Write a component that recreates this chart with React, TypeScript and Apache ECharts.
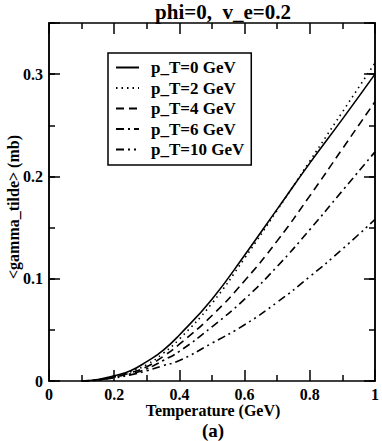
import React, { useEffect, useRef } from "react";
import * as echarts from "echarts";

const temperatures = [0.1, 0.15, 0.2, 0.25, 0.3, 0.35, 0.4, 0.5, 0.6, 0.7, 0.8, 0.9, 1.0];
const pT0 = [0, 0.0015, 0.005, 0.01, 0.019, 0.03, 0.045, 0.08, 0.123, 0.168, 0.213, 0.256, 0.3];
const pT2 = [0, 0.001, 0.004, 0.009, 0.016, 0.027, 0.041, 0.076, 0.12, 0.167, 0.215, 0.263, 0.311];
const pT4 = [0, 0.001, 0.004, 0.008, 0.014, 0.024, 0.036, 0.064, 0.098, 0.137, 0.181, 0.227, 0.273];
const pT6 = [0, 0.001, 0.004, 0.007, 0.012, 0.02, 0.029, 0.053, 0.08, 0.112, 0.148, 0.186, 0.224];
const pT10 = [0, 0.001, 0.003, 0.006, 0.01, 0.015, 0.02, 0.037, 0.055, 0.077, 0.102, 0.129, 0.158];
const seriesNames = ["p_T=0 GeV", "p_T=2 GeV", "p_T=4 GeV", "p_T=6 GeV", "p_T=10 GeV"];
const seriesValues = [pT0, pT2, pT4, pT6, pT10];
const dashes: (string | number[])[] = ["solid", [1.5, 4], [8, 5], [8, 4, 2, 4], [8, 4, 2, 4, 2, 4]];
const xTickLabels = ["0", "0.2", "0.4", "0.6", "0.8", "1"];
const yTickLabels = ["0", "0.1", "0.2", "0.3"];

const FONT = "Liberation Serif";

export default function App() {
  const ref = useRef<HTMLDivElement>(null);
  useEffect(() => {
    document.body.style.margin = "0";
    const chart = echarts.init(ref.current!, undefined, { renderer: "svg" });
    const lineW = 1.5;
    const axisCommon = {
      type: "value" as const,
      axisLine: { show: true, onZero: false, lineStyle: { color: "#000", width: lineW } },
      splitLine: { show: false },
      minorSplitLine: { show: false },
    };
    const labelStyle = { fontFamily: FONT, fontWeight: "bold" as const, fontSize: 16, color: "#000" };
    const xBase = {
      ...axisCommon,
      min: 0,
      max: 1,
      interval: 0.2,
      axisTick: { show: true, inside: true, length: 11, lineStyle: { color: "#000", width: lineW } },
      minorTick: { show: true, splitNumber: 2, length: 6, lineStyle: { color: "#000", width: lineW } },
    };
    const yMinor = {
      ...axisCommon,
      min: 0,
      max: 0.35,
      interval: 0.05,
      axisTick: { show: true, inside: true, length: 6, lineStyle: { color: "#000", width: lineW } },
      axisLabel: { show: false },
    };
    const yMajor = {
      ...axisCommon,
      min: 0,
      max: 0.35,
      interval: 0.1,
      axisTick: { show: true, inside: true, length: 11, lineStyle: { color: "#000", width: lineW } },
    };
    chart.setOption({
      animation: false,
      grid: { left: 49, right: 5, top: 23, bottom: 60, containLabel: false },
      xAxis: [
        {
          ...xBase,
          position: "bottom",
          axisLabel: {
            ...labelStyle,
            margin: 5,
            formatter: (v: number) => xTickLabels[Math.round(v / 0.2)] ?? "",
          },
        },
        { ...xBase, position: "top", axisLabel: { show: false } },
      ],
      yAxis: [
        { ...yMinor, position: "left" },
        {
          ...yMajor,
          position: "left",
          axisLabel: {
            ...labelStyle,
            margin: 6,
            formatter: (v: number) => {
              const i = Math.round(v / 0.1);
              return Math.abs(v - i * 0.1) < 1e-6 ? yTickLabels[i] ?? "" : "";
            },
          },
        },
        { ...yMinor, position: "right" },
        { ...yMajor, position: "right", axisLabel: { show: false } },
      ],
      legend: {
        show: true,
        orient: "vertical",
        left: 108,
        top: 53,
        padding: [6, 7, 7, 7],
        itemGap: 3.5,
        itemWidth: 23,
        itemHeight: 14,
        borderColor: "#000",
        borderWidth: 1.5,
        backgroundColor: "#fff",
        itemStyle: { opacity: 0 },
        textStyle: { ...labelStyle, fontSize: 17, lineHeight: 14, padding: [0, 0, 0, 7] },
        data: seriesNames,
      },
      series: seriesNames.map((name, i) => ({
        name,
        type: "line",
        xAxisIndex: 0,
        yAxisIndex: 0,
        smooth: true,
        symbol: "none",
        data: temperatures.map((t, j) => [t, seriesValues[i][j]]),
        lineStyle: { color: "#000", width: 1.6, type: dashes[i] },
        itemStyle: { color: "#000" },
      })),
      graphic: [
        {
          type: "text",
          x: 223,
          y: 12,
          style: {
            text: "phi=0,  v_e=0.2",
            font: `bold 21px "${FONT}"`,
            fill: "#000",
            textAlign: "center",
            textVerticalAlign: "middle",
          },
        },
        {
          type: "text",
          x: 213,
          y: 410,
          style: {
            text: "Temperature (GeV)",
            font: `bold 16px "${FONT}"`,
            fill: "#000",
            textAlign: "center",
            textVerticalAlign: "middle",
          },
        },
        {
          type: "text",
          x: 213,
          y: 430,
          style: {
            text: "(a)",
            font: `bold 19px "${FONT}"`,
            fill: "#000",
            textAlign: "center",
            textVerticalAlign: "middle",
          },
        },
        {
          type: "text",
          x: 13,
          y: 207,
          rotation: Math.PI / 2,
          style: {
            text: "<gamma_tilde> (mb)",
            font: `bold 16px "${FONT}"`,
            fill: "#000",
            textAlign: "center",
            textVerticalAlign: "middle",
          },
        },
      ],
    });
    return () => chart.dispose();
  }, []);
  return <div ref={ref} style={{ width: 382, height: 441 }} />;
}
